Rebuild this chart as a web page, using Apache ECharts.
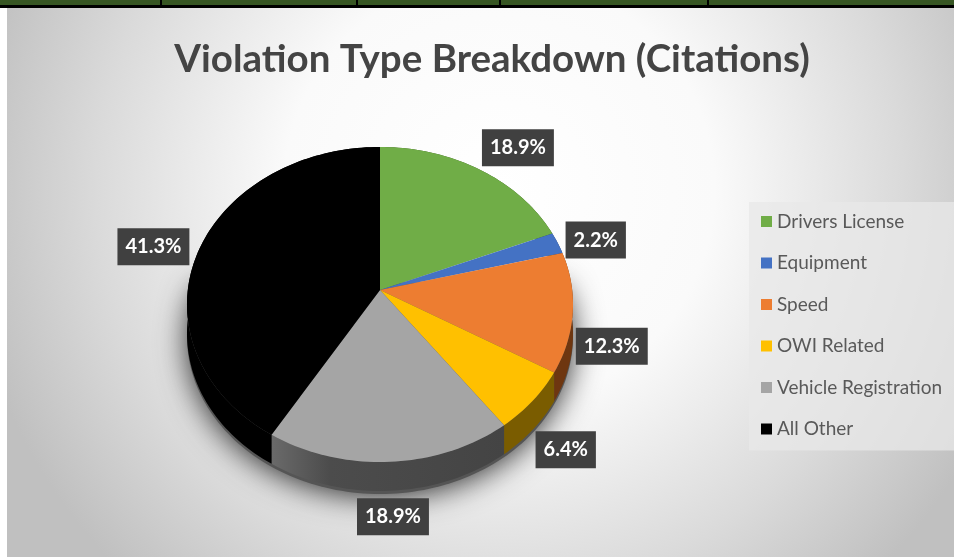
<!DOCTYPE html>
<html><head><meta charset="utf-8">
<style>html,body{margin:0;padding:0;background:#fff}#c{width:954px;height:557px}</style>
<script src="https://cdn.jsdelivr.net/npm/echarts@6/dist/echarts.min.js"></script>
</head><body><div id="c"></div>
<script>
const titleText = 'Violation Type Breakdown (Citations)';
const categories = ['Drivers License','Equipment','Speed','OWI Related','Vehicle Registration','All Other'];
const values = [18.9, 2.2, 12.3, 6.4, 18.9, 41.3];
const topColors = ['#70ad47','#4472c4','#ed7d31','#ffc000','#a5a5a5','#000000'];
const wallColors = ['#38571f','#223962','#6e3610','#7a5c00','#484848','#000000'];
const labelOffsets = [[38,-22],[38,-3],[39,34],[33,49],[3,55],[-46,-2]];
const bandSeparators = [161,357,500,708];

// perspective projection of the pie disc
const P = {cx:380, cy:290, a:192.2, b:156.2, k:0.092, depth:29};
function project(deg, r){
  const t = deg*Math.PI/180, x = Math.sin(t)*r, y = -Math.cos(t)*r, w = 1-P.k*y;
  return [P.cx+P.a*x/w, P.cy+P.b*y/w];
}
function arc(a0,a1){
  const n = Math.max(2,Math.ceil(Math.abs(a1-a0)/1.5)), pts=[];
  for(let i=0;i<=n;i++) pts.push(project(a0+(a1-a0)*i/n,1));
  return pts;
}
const total = values.reduce((s,v)=>s+v,0);
let acc = 0;
const spans = values.map(v=>{const s=[acc/total*360,(acc+v)/total*360];acc+=v;return s;});

function renderWall(i){
  return (params,api)=>{
    const [a0,a1]=spans[i], top=arc(a0,a1);
    const low=top.map(p=>[p[0],p[1]+P.depth]).reverse();
    let fill=wallColors[i];
    if(i===4) fill=new echarts.graphic.LinearGradient(0,0,1,0,[{offset:0,color:'#6a6a6a'},{offset:.25,color:'#4c4c4c'},{offset:1,color:'#444444'}]);
    return {type:'polygon',shape:{points:top.concat(low)},style:{fill}};
  };
}
function renderTop(i){
  return (params,api)=>{
    const [a0,a1]=spans[i];
    const pts=[[P.cx,P.cy]].concat(arc(a0,a1));
    return {type:'polygon',shape:{points:pts},style:{fill:topColors[i]}};
  };
}
function renderLabel(i){
  return (params,api)=>{
    const [a0,a1]=spans[i], mid=project((a0+a1)/2,1);
    return {type:'text',x:mid[0]+labelOffsets[i][0],y:mid[1]+labelOffsets[i][1],
      style:{text:values[i].toFixed(1)+'%',fill:'#ffffff',font:'bold 20px Lato',align:'center',verticalAlign:'middle',
        backgroundColor:'#404040',padding:[9,8,8,8],
        boxShadowColor:'rgba(0,0,0,0.55)',boxShadowBlur:6,boxShadowOffsetX:3,boxShadowOffsetY:3}};
  };
}
const shadowSeries = {type:'custom',silent:true,z:1,coordinateSystem:'none',data:[0],
  renderItem:()=>({type:'polygon',
    shape:{points:arc(75,285).map(p=>[p[0],p[1]+P.depth+3])},
    style:{fill:'#555',shadowColor:'rgba(0,0,0,0.8)',shadowBlur:30,shadowOffsetY:3}})};

const series = [shadowSeries];
categories.forEach((name,i)=>{
  series.push({name,type:'custom',coordinateSystem:'none',silent:true,z:2,data:[values[i]],
    itemStyle:{color:topColors[i]},renderItem:renderWall(i)});
});
categories.forEach((name,i)=>{
  series.push({name,type:'custom',coordinateSystem:'none',silent:true,z:3,data:[values[i]],
    itemStyle:{color:topColors[i]},renderItem:renderTop(i)});
});
categories.forEach((name,i)=>{
  series.push({name,type:'custom',coordinateSystem:'none',silent:true,z:4,data:[values[i]],
    itemStyle:{color:topColors[i]},renderItem:renderLabel(i)});
});

const bandEls = [
  {type:'rect',z:-10,shape:{x:0,y:0,width:954,height:5},style:{fill:'#375623'}},
  {type:'rect',z:-10,shape:{x:0,y:5,width:954,height:3},style:{fill:'#000000'}},
  {type:'rect',z:-10,shape:{x:7,y:8,width:947,height:549},style:{
    fill:new echarts.graphic.RadialGradient(0.52,0.33,0.98,[
      {offset:0,color:'#ffffff'},{offset:0.4,color:'#fafafa'},{offset:0.75,color:'#dadada'},{offset:1,color:'#c0c0c0'}])}}
].concat(bandSeparators.map(x=>({type:'rect',z:-9,shape:{x:x-1,y:0,width:2,height:6},style:{fill:'#000000'}})));

const chart = echarts.init(document.getElementById('c'),null,{renderer:'canvas'});
chart.setOption({
  animation:false,
  backgroundColor:'#ffffff',
  title:{text:titleText,left:487,top:35,textAlign:'center',
    textStyle:{fontFamily:'Lato',fontWeight:'bold',fontSize:38.5,color:'#444444'}},
  legend:{data:categories,orient:'vertical',left:749,top:202,align:'left',
    padding:[10,14,12,12],itemWidth:11,itemHeight:11,itemGap:22.5,icon:'rect',selectedMode:false,
    backgroundColor:'rgba(232,232,232,0.75)',
    textStyle:{fontFamily:'Lato',fontSize:19,color:'#595959',padding:[0,0,0,0]}},
  graphic:bandEls,
  series
});
</script></body></html>
